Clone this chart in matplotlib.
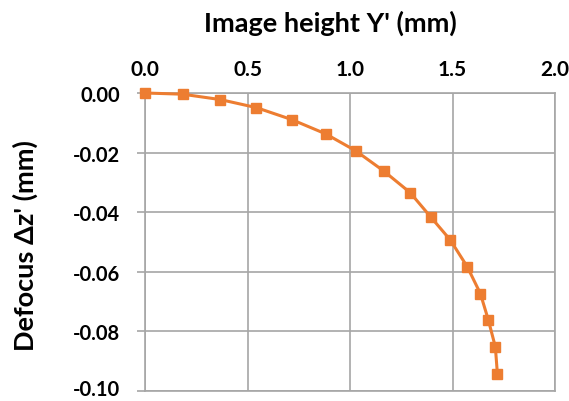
import matplotlib
matplotlib.use("Agg")
import matplotlib.pyplot as plt
from matplotlib.transforms import ScaledTranslation

image_height = [0.0, 0.183, 0.367, 0.543, 0.715, 0.881, 1.028, 1.165, 1.293, 1.395, 1.489, 1.572, 1.636, 1.675, 1.709, 1.719]
defocus = [0.0, -0.0004, -0.0022, -0.0049, -0.0089, -0.0137, -0.0194, -0.0262, -0.0334, -0.0417, -0.0493, -0.0583, -0.0673, -0.0762, -0.0852, -0.0942]
x_ticks = [0.0, 0.5, 1.0, 1.5, 2.0]
y_ticks = [0.00, -0.02, -0.04, -0.06, -0.08, -0.10]

plt.rcParams['font.family'] = ['Lato', 'DejaVu Sans']

fig = plt.figure(figsize=(5.69, 4.02), dpi=100)
W, H = 569, 402
ax = fig.add_axes([145 / W, 1 - 392 / H, (555 - 145) / W, (392 - 94) / H])

ax.plot(image_height, defocus, color='#ED7D31', lw=2.2, marker='s', ms=7.5,
        markeredgecolor='#ED7D31', zorder=3, clip_on=False)

ax.set_xlim(0, 2.0)
ax.set_ylim(-0.10, 0.0)
ax.set_xticks(x_ticks)
ax.set_yticks(y_ticks)
ax.set_xticklabels([f"{v:.1f}" for v in x_ticks])
ax.set_yticklabels([f"{v:.2f}" for v in y_ticks])
ax.xaxis.tick_top()
ax.xaxis.set_label_position('top')

gc = '#a6a6a6'
ax.grid(True, color=gc, lw=1.2)
for s in ax.spines.values():
    s.set_color(gc)
    s.set_linewidth(1.2)
ax.tick_params(axis='x', length=0, pad=10, labelsize=15, labelcolor='#000000')
ax.tick_params(axis='y', length=6, width=1.2, color=gc, pad=12, labelsize=14.5, labelcolor='#000000')
for lbl in ax.get_xticklabels() + ax.get_yticklabels():
    lbl.set_fontweight('bold')

# nudge the bottom-most tick label up a hair so it stays inside the canvas
last = ax.get_yticklabels()[-1]
last.set_transform(last.get_transform() + ScaledTranslation(0, 3 / 72, fig.dpi_scale_trans))

ax.set_xlabel("Image height Y' (mm)", fontsize=19.5, fontweight='bold')
ax.set_ylabel("Defocus \u0394z' (mm)", fontsize=19.5, fontweight='bold')
ax.xaxis.set_label_coords(0.451, 1 + (94 - 32) / 298)
ax.yaxis.set_label_coords((38 - 145) / 410, (392 - 246) / 298)

fig.savefig("out.png", dpi=100)
